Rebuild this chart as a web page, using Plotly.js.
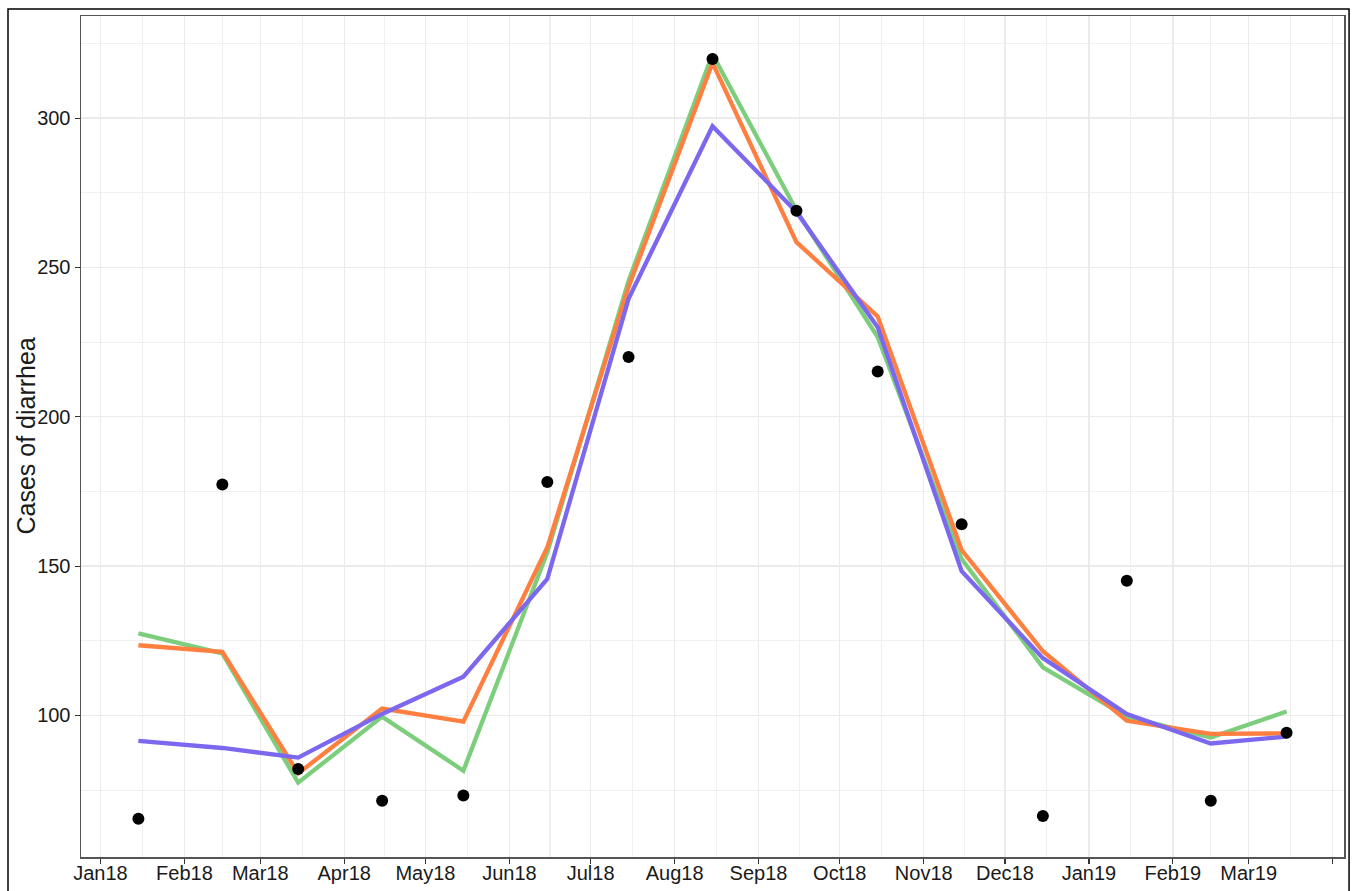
<!DOCTYPE html>
<html>
<head>
<meta charset="utf-8">
<script src="https://cdn.plot.ly/plotly-3.0.1.min.js"></script>
<style>
  html, body { margin: 0; padding: 0; background: #ffffff; }
  #chart { width: 1359px; height: 891px; }
</style>
</head>
<body>
<div id="chart"></div>
<script>
// ---- Data ----
const months = ["2018-01-15","2018-02-15","2018-03-15","2018-04-15","2018-05-15","2018-06-15",
                "2018-07-15","2018-08-15","2018-09-15","2018-10-15","2018-11-15","2018-12-15",
                "2019-01-15","2019-02-15","2019-03-15"];
const observed = [65.4, 177.3, 82.1, 71.4, 73.2, 178.2, 220.0, 319.8, 269.0, 215.2, 164.0, 66.3, 145.1, 71.4, 94.2];
const fitGreen  = [127.5, 120.8, 77.5, 99.6, 81.5, 154.6, 245.5, 321.4, 269.1, 226.7, 152.4, 116.1, 99.6, 92.6, 101.3];
const fitOrange = [123.5, 121.3, 80.6, 102.3, 97.9, 156.3, 243.5, 318.5, 258.5, 233.6, 155.4, 121.5, 98.2, 93.8, 94.0];
const fitPurple = [91.5, 89.1, 85.9, 100.5, 113.0, 145.7, 239.5, 297.3, 268.6, 230.0, 148.3, 119.2, 100.5, 90.6, 92.9];

const tickDates  = ["2018-01-01","2018-02-01","2018-03-01","2018-04-01","2018-05-01","2018-06-01",
                    "2018-07-01","2018-08-01","2018-09-01","2018-10-01","2018-11-01","2018-12-01",
                    "2019-01-01","2019-02-01","2019-03-01","2019-04-01"];
const tickLabels = ["Jan18","Feb18","Mar18","Apr18","May18","Jun18","Jul18","Aug18","Sep18","Oct18",
                    "Nov18","Dec18","Jan19","Feb19","Mar19",""];
const yTicks = [100, 150, 200, 250, 300];
const yMinor = [75, 125, 175, 225, 275, 325];
const yTitle = "Cases of diarrhea";

// minor x grid: midpoints between consecutive month starts
const xMinor = [];
for (let i = 0; i < tickDates.length - 1; i++) {
  const a = new Date(tickDates[i] + "T00:00:00Z").getTime();
  const b = new Date(tickDates[i + 1] + "T00:00:00Z").getTime();
  xMinor.push(new Date((a + b) / 2).toISOString().replace("T", " ").slice(0, 19));
}

const lineW = 4.3;
const traces = [
  { x: months, y: fitGreen,  type: "scatter", mode: "lines", name: "Model 1",
    line: { color: "#7CCD7C", width: lineW } },
  { x: months, y: fitOrange, type: "scatter", mode: "lines", name: "Model 2",
    line: { color: "#FF7F40", width: lineW } },
  { x: months, y: fitPurple, type: "scatter", mode: "lines", name: "Model 3",
    line: { color: "#7B68EE", width: lineW } },
  { x: months, y: observed,  type: "scatter", mode: "markers", name: "Observed",
    marker: { color: "#000000", size: 12 } }
];

const fam = "Liberation Sans, Arial, sans-serif";
const font = { family: fam, size: 20, color: "#1a1a1a" };

const layout = {
  width: 1359, height: 891,
  margin: { l: 81, r: 15, t: 16, b: 34, pad: 0 },
  paper_bgcolor: "#ffffff", plot_bgcolor: "#ffffff",
  showlegend: false,
  font: font,
  xaxis: {
    type: "date",
    range: ["2017-12-24 19:12", "2019-04-05 04:48"],
    tickmode: "array", tickvals: tickDates, ticktext: tickLabels,
    ticks: "outside", ticklen: 5, tickcolor: "#333333", tickwidth: 1.2,
    ticklabelstandoff: -8,
    tickfont: font,
    showgrid: true, gridcolor: "#EBEBEB", gridwidth: 1.3,
    minor: { tickmode: "array", tickvals: xMinor, showgrid: true, gridcolor: "#F0F0F0", gridwidth: 1.1, ticks: "" },
    showline: true, mirror: true, linecolor: "#555555", linewidth: 1.5,
    zeroline: false
  },
  yaxis: {
    range: [52.6, 334.2],
    tickmode: "array", tickvals: yTicks, ticktext: yTicks.map(String),
    ticks: "outside", ticklen: 5, tickcolor: "#333333", tickwidth: 1.2,
    tickfont: font,
    showgrid: true, gridcolor: "#EBEBEB", gridwidth: 1.3,
    minor: { tickmode: "array", tickvals: yMinor, showgrid: true, gridcolor: "#F0F0F0", gridwidth: 1.1, ticks: "" },
    showline: true, mirror: true, linecolor: "#555555", linewidth: 1.5,
    zeroline: false
  },
  annotations: [
    { text: yTitle, xref: "paper", yref: "paper", x: -0.0443, y: 0.5,
      xanchor: "center", yanchor: "middle", textangle: -90, showarrow: false,
      font: { family: fam, size: 25, color: "#1a1a1a" } }
  ],
  shapes: [
    { type: "rect", xref: "paper", yref: "paper",
      x0: -0.0578, x1: 1.0040, y0: -0.06, y1: 1.0083,
      line: { color: "#000000", width: 1.5 }, fillcolor: "rgba(0,0,0,0)", layer: "above" }
  ]
};

Plotly.newPlot("chart", traces, layout, { displayModeBar: false, staticPlot: true });
</script>
</body>
</html>
